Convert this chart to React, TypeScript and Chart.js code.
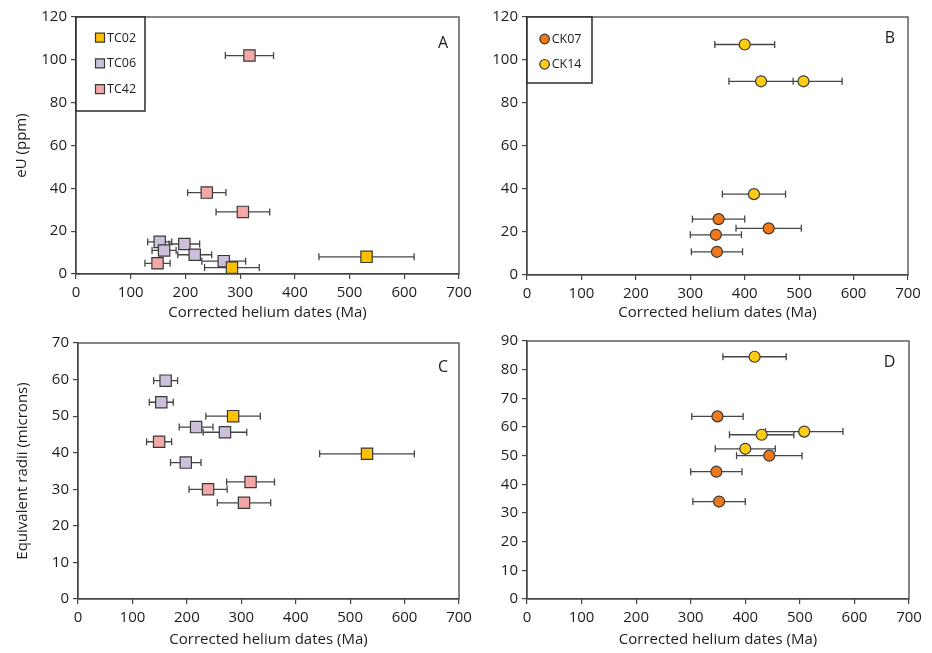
import React, { useEffect, useRef } from 'react';
import { Chart, registerables } from 'chart.js';

Chart.register(...registerables);
Chart.defaults.font.family = "'Open Sans', sans-serif";

// ---------------- data ----------------
const tc02Dates = [285, 531];
const tc02EU = [3, 8];
const tc02Radii = [50, 39.7];
const tc02Err = [50, 87];

const tc06Dates = [153, 161, 198, 217, 270];
const tc06EU = [15, 11, 14, 9, 6];
const tc06Radii = [53.8, 59.7, 37.3, 47, 45.6];
const tc06Err = [22, 22, 28, 31, 40];

const tc42Dates = [149, 239, 305, 317];
const tc42EU = [5, 38, 29, 102];
const tc42Radii = [43, 30, 26.3, 32];
const tc42Err = [23, 35, 49, 44];

const ck07Dates = [352, 347, 349, 444];
const ck07EU = [26, 18.7, 10.8, 21.7];
const ck07Radii = [34, 44.4, 63.7, 50];
const ck07Err = [48, 47, 47, 60];

const ck14Dates = [400, 430, 508, 417];
const ck14EU = [107.2, 90.1, 90.1, 37.6];
const ck14Radii = [52.4, 57.3, 58.4, 84.5];
const ck14Err = [55, 59, 71, 58];

const dateRange = [0, 700, 100]; // min, max, step
const eURange = [0, 120, 20];
const radiiTCRange = [0, 70, 10];
const radiiCKRange = [0, 90, 10];

const xTitle = 'Corrected helium dates (Ma)';
const eUTitle = 'eU (ppm)';
const radiiTitle = 'Equivalent radii (microns)';

// ---------------- styles ----------------
const TEXT = '#1c1c1c';
const AXIS = '#454545';
const ERR = '#454545';
const MARK_BORDER = '#383838';

const styles: Record<string, { color: string; shape: string; radius: number }> = {
  TC02: { color: '#FFC000', shape: 'rect', radius: 8 },
  TC06: { color: '#CCC0DA', shape: 'rect', radius: 8 },
  TC42: { color: '#F4A7A7', shape: 'rect', radius: 8 },
  CK07: { color: '#F07818', shape: 'circle', radius: 5.5 },
  CK14: { color: '#FFCC14', shape: 'circle', radius: 5.5 },
};

function markerDataset(label: string, xs: number[], ys: number[]) {
  const s = styles[label];
  return {
    type: 'scatter',
    label,
    legendItem: true,
    data: xs.map((x, i) => ({ x, y: ys[i] })),
    pointStyle: s.shape,
    pointRadius: s.radius,
    pointHoverRadius: s.radius,
    pointBackgroundColor: s.color,
    pointBorderColor: MARK_BORDER,
    pointBorderWidth: 1.2,
    showLine: false,
    clip: false,
    order: 0,
  };
}

function errorDataset(label: string, xs: number[], ys: number[], errs: number[]) {
  const data: { x: number; y: number }[] = [];
  xs.forEach((x, i) => {
    data.push({ x: x - errs[i], y: ys[i] });
    data.push({ x: x + errs[i], y: ys[i] });
    data.push({ x: NaN, y: NaN });
  });
  return {
    type: 'scatter',
    label: label + ' err',
    legendItem: false,
    data,
    showLine: true,
    spanGaps: false,
    borderColor: ERR,
    borderWidth: 1.3,
    pointStyle: 'line',
    rotation: 90,
    pointRotation: 90,
    pointRadius: 3.5,
    pointHoverRadius: 3.5,
    pointBorderColor: ERR,
    pointBorderWidth: 1.3,
    pointBackgroundColor: ERR,
    clip: false,
    order: 1,
  };
}

interface LegendCfg {
  w: number;
  h: number;
  firstY: number;
  spacing: number;
  markerX: number;
  textX: number;
}

interface PanelCfg {
  letter: string;
  letterDx: number; // from chart area right
  letterDy: number; // from chart area top
  legend: LegendCfg;
}

function decorPlugin(cfg: PanelCfg) {
  return {
    id: 'decor' + cfg.letter,
    beforeDatasetsDraw(chart: any) {
      const { ctx, chartArea: a } = chart;
      ctx.save();
      ctx.strokeStyle = AXIS;
      ctx.lineWidth = 1.3;
      ctx.strokeRect(a.left, a.top, a.right - a.left, a.bottom - a.top);
      ctx.restore();
    },
    afterDatasetsDraw(chart: any) {
      const { ctx, chartArea: a } = chart;
      const L = cfg.legend;
      ctx.save();
      // legend box
      ctx.fillStyle = '#ffffff';
      ctx.fillRect(a.left, a.top, L.w, L.h);
      ctx.strokeStyle = '#2a2a2a';
      ctx.lineWidth = 1.5;
      ctx.strokeRect(a.left, a.top, L.w, L.h);
      const items = chart.data.datasets.filter((d: any) => d.legendItem);
      items.forEach((d: any, i: number) => {
        const s = styles[d.label];
        const cy = a.top + L.firstY + i * L.spacing;
        const cx = a.left + L.markerX;
        ctx.fillStyle = s.color;
        ctx.strokeStyle = MARK_BORDER;
        ctx.lineWidth = 1.2;
        ctx.beginPath();
        if (s.shape === 'rect') {
          ctx.rect(cx - 4.5, cy - 4.5, 9, 9);
        } else {
          ctx.arc(cx, cy, 4.8, 0, Math.PI * 2);
        }
        ctx.fill();
        ctx.stroke();
        ctx.fillStyle = TEXT;
        ctx.font = "12.5px 'Open Sans', sans-serif";
        ctx.textAlign = 'left';
        ctx.textBaseline = 'middle';
        ctx.fillText(d.label, a.left + L.textX, cy + 0.5);
      });
      // panel letter
      ctx.fillStyle = TEXT;
      ctx.font = "16px 'Open Sans', sans-serif";
      ctx.textAlign = 'center';
      ctx.textBaseline = 'middle';
      ctx.fillText(cfg.letter, a.right - cfg.letterDx, a.top + cfg.letterDy);
      ctx.restore();
    },
  };
}

const tickFont = { size: 15, family: "'Open Sans', sans-serif" };

function makeConfig(opts: {
  datasets: any[];
  yRange: number[];
  yTitle: string | null;
  yWidth: number;
  xHeight: number;
  padding: { left: number; right: number; top: number; bottom: number };
  yTitlePad: number;
  panel: PanelCfg;
}): any {
  return {
    data: { datasets: opts.datasets },
    options: {
      animation: false,
      responsive: false,
      maintainAspectRatio: false,
      events: [],
      layout: { padding: opts.padding },
      plugins: { legend: { display: false }, tooltip: { enabled: false } },
      scales: {
        x: {
          type: 'linear',
          min: dateRange[0],
          max: dateRange[1],
          ticks: { stepSize: dateRange[2], font: tickFont, color: TEXT, padding: 5, maxRotation: 0 },
          grid: { drawOnChartArea: false, drawTicks: true, tickLength: 5, color: AXIS, lineWidth: 1.2 },
          border: { display: true, color: AXIS, width: 1.3 },
          title: { display: true, text: xTitle, font: tickFont, color: TEXT, padding: { top: 0, bottom: 4 } },
          afterFit: (s: any) => {
            s.height = opts.xHeight;
          },
        },
        y: {
          type: 'linear',
          min: opts.yRange[0],
          max: opts.yRange[1],
          ticks: { stepSize: opts.yRange[2], font: tickFont, color: TEXT, padding: 4 },
          grid: { drawOnChartArea: false, drawTicks: true, tickLength: 5, color: AXIS, lineWidth: 1.2 },
          border: { display: true, color: AXIS, width: 1.3 },
          title: {
            display: !!opts.yTitle,
            text: opts.yTitle || '',
            font: tickFont,
            color: TEXT,
            padding: { top: opts.yTitlePad, bottom: 0 },
          },
          afterFit: (s: any) => {
            s.width = opts.yWidth;
          },
        },
      },
    },
    plugins: [decorPlugin(opts.panel)],
  };
}

const legendTC: LegendCfg = { w: 69, h: 94, firstY: 20.7, spacing: 25.7, markerX: 24, textX: 31 };
const legendCK: LegendCfg = { w: 65, h: 66, firstY: 22, spacing: 25.3, markerX: 17.6, textX: 24.7 };

const configA = () =>
  makeConfig({
    datasets: [
      markerDataset('TC02', tc02Dates, tc02EU),
      markerDataset('TC06', tc06Dates, tc06EU),
      markerDataset('TC42', tc42Dates, tc42EU),
      errorDataset('TC02', tc02Dates, tc02EU, tc02Err),
      errorDataset('TC06', tc06Dates, tc06EU, tc06Err),
      errorDataset('TC42', tc42Dates, tc42EU, tc42Err),
    ],
    yRange: eURange,
    yTitle: eUTitle,
    yWidth: 76,
    xHeight: 52,
    padding: { left: 0, right: 27, top: 17, bottom: 0 },
    yTitlePad: 13,
    panel: { letter: 'A', letterDx: 16, letterDy: 26.5, legend: legendTC },
  });

const configB = () =>
  makeConfig({
    datasets: [
      markerDataset('CK07', ck07Dates, ck07EU),
      markerDataset('CK14', ck14Dates, ck14EU),
      errorDataset('CK07', ck07Dates, ck07EU, ck07Err),
      errorDataset('CK14', ck14Dates, ck14EU, ck14Err),
    ],
    yRange: eURange,
    yTitle: null,
    yWidth: 61,
    xHeight: 51,
    padding: { left: 0, right: 24, top: 17, bottom: 0 },
    yTitlePad: 0,
    panel: { letter: 'B', letterDx: 18, letterDy: 21, legend: legendCK },
  });

const configC = () =>
  makeConfig({
    datasets: [
      markerDataset('TC02', tc02Dates, tc02Radii),
      markerDataset('TC06', tc06Dates, tc06Radii),
      markerDataset('TC42', tc42Dates, tc42Radii),
      errorDataset('TC02', tc02Dates, tc02Radii, tc02Err),
      errorDataset('TC06', tc06Dates, tc06Radii, tc06Err),
      errorDataset('TC42', tc42Dates, tc42Radii, tc42Err),
    ].map((d: any) => ({ ...d, legendItem: false })),
    yRange: radiiTCRange,
    yTitle: radiiTitle,
    yWidth: 78,
    xHeight: 54,
    padding: { left: 0, right: 27, top: 17, bottom: 0 },
    yTitlePad: 14,
    panel: { letter: 'C', letterDx: 16, letterDy: 24, legend: { ...legendTC, w: 0, h: 0 } },
  });

const configD = () =>
  makeConfig({
    datasets: [
      markerDataset('CK07', ck07Dates, ck07Radii),
      markerDataset('CK14', ck14Dates, ck14Radii),
      errorDataset('CK07', ck07Dates, ck07Radii, ck07Err),
      errorDataset('CK14', ck14Dates, ck14Radii, ck14Err),
    ].map((d: any) => ({ ...d, legendItem: false })),
    yRange: radiiCKRange,
    yTitle: null,
    yWidth: 61,
    xHeight: 54,
    padding: { left: 0, right: 23, top: 15, bottom: 0 },
    yTitlePad: 0,
    panel: { letter: 'D', letterDx: 19.5, letterDy: 21, legend: { ...legendCK, w: 0, h: 0 } },
  });

function Panel(props: { left: number; top: number; width: number; height: number; config: () => any }) {
  const ref = useRef<HTMLCanvasElement>(null);
  useEffect(() => {
    if (!ref.current) return;
    const chart = new Chart(ref.current, props.config());
    return () => chart.destroy();
  }, []);
  return (
    <canvas
      ref={ref}
      width={props.width}
      height={props.height}
      style={{ position: 'absolute', left: props.left, top: props.top, width: props.width, height: props.height }}
    />
  );
}

export default function App() {
  return (
    <div style={{ position: 'fixed', left: 0, top: 0, width: 932, height: 653, background: '#ffffff', overflow: 'hidden' }}>
      <Panel left={0} top={0} width={486} height={326} config={configA} />
      <Panel left={466} top={0} width={466} height={326} config={configB} />
      <Panel left={0} top={326} width={486} height={327} config={configC} />
      <Panel left={466} top={326} width={466} height={327} config={configD} />
    </div>
  );
}
